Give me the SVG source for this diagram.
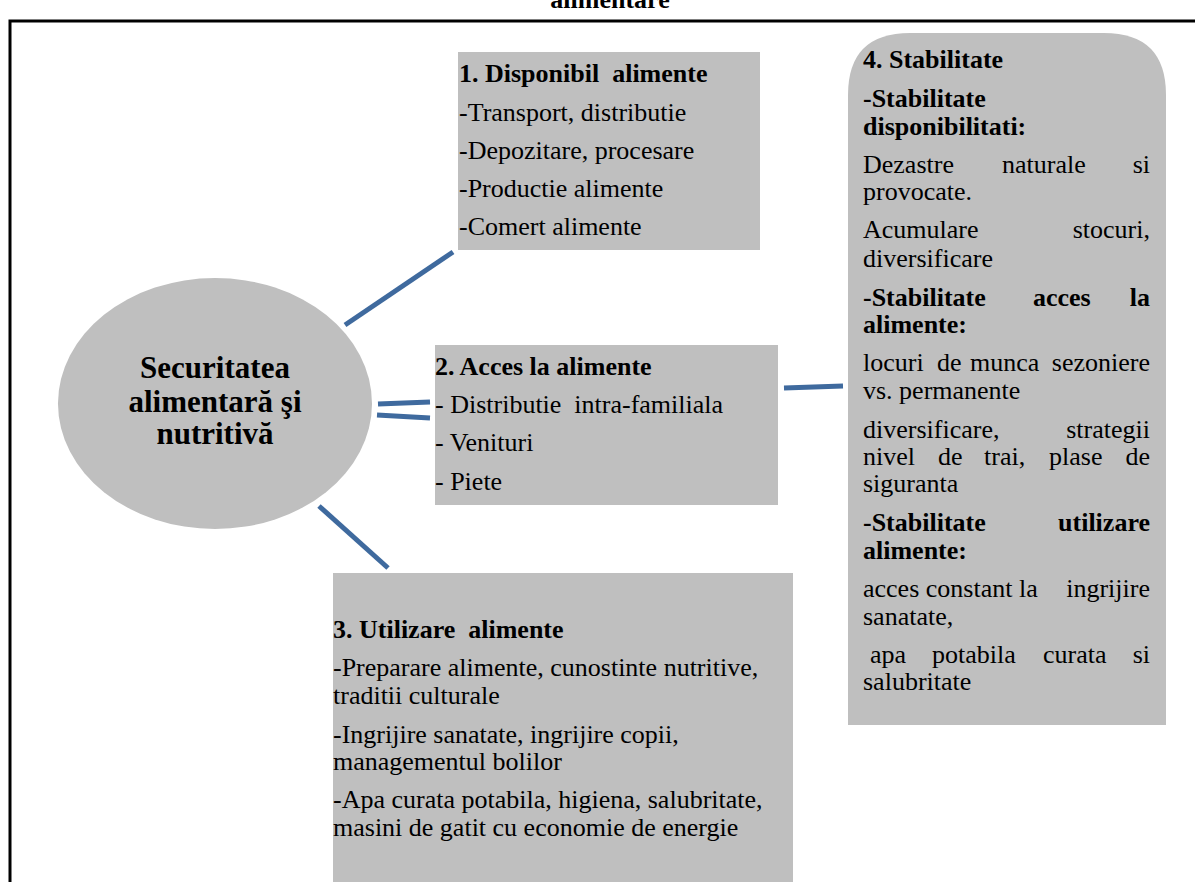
<svg xmlns="http://www.w3.org/2000/svg" width="1195" height="882" viewBox="0 0 1195 882">
<style>
.t{font-family:'Liberation Serif','Times New Roman','DejaVu Serif',serif;font-size:26px;fill:#000}
.b{font-weight:bold}
.big{font-size:31px}
.ttl{font-size:26px}
.box{fill:#BFBFBF}
.con line{stroke:#3F6A9E;stroke-width:5}
</style>
<rect width="1195" height="882" fill="#fff"/>
<text class="t b ttl" x="610" y="8" text-anchor="middle">alimentare</text>
<path d="M10,882 V21 H1195" fill="none" stroke="#000" stroke-width="3"/>
<g class="con">
<line x1="345" y1="325" x2="453" y2="252"/>
<line x1="378" y1="404" x2="430" y2="402"/>
<line x1="377" y1="415" x2="430" y2="418"/>
<line x1="319" y1="506" x2="388" y2="568"/>
<line x1="784" y1="388" x2="843" y2="386"/>
</g>
<g id="center">
<ellipse class="box" cx="215" cy="403.5" rx="157" ry="125.5"/>
<text class="t b big" x="215" text-anchor="middle"><tspan x="215" y="378">Securitatea</tspan><tspan x="215" y="412">alimentară şi</tspan><tspan x="215" y="444">nutritivă</tspan></text>
</g>
<g id="box1">
<rect class="box" x="458" y="52" width="302" height="198"/>
<text class="t b" x="459" y="82" xml:space="preserve">1. Disponibil  alimente</text>
<text class="t" x="459" y="121">-Transport, distributie</text>
<text class="t" x="459" y="159">-Depozitare, procesare</text>
<text class="t" x="459" y="197">-Productie alimente</text>
<text class="t" x="459" y="235">-Comert alimente</text>
</g>
<g id="box2">
<rect class="box" x="435" y="345" width="343" height="160"/>
<text class="t b" x="435" y="375">2. Acces la alimente</text>
<text class="t" x="435" y="413" xml:space="preserve">- Distributie  intra-familiala</text>
<text class="t" x="435" y="451">- Venituri</text>
<text class="t" x="435" y="490">- Piete</text>
</g>
<g id="box3">
<rect class="box" x="333" y="573" width="460" height="320"/>
<text class="t b" x="333" y="638" xml:space="preserve">3. Utilizare  alimente</text>
<text class="t" x="333" y="676">-Preparare alimente, cunostinte nutritive,</text>
<text class="t" x="333" y="704">traditii culturale</text>
<text class="t" x="333" y="743">-Ingrijire sanatate, ingrijire copii,</text>
<text class="t" x="333" y="770">managementul bolilor</text>
<text class="t" x="333" y="808">-Apa curata potabila, higiena, salubritate,</text>
<text class="t" x="333" y="836">masini de gatit cu economie de energie</text>
</g>
<g id="box4">
<path class="box" d="M848,725 V95 Q848,33 910,33 H1104 Q1166,33 1166,95 V725 Z"/>
<text class="t b" x="863" y="68">4. Stabilitate</text>
<text class="t b" x="863" y="107">-Stabilitate</text>
<text class="t b" x="863" y="135">disponibilitati:</text>
<text class="t" x="863" y="173">Dezastre</text><text class="t" x="1002" y="173">naturale</text><text class="t" x="1150" y="173" text-anchor="end">si</text>
<text class="t" x="863" y="200">provocate.</text>
<text class="t" x="863" y="238">Acumulare</text><text class="t" x="1150" y="238" text-anchor="end">stocuri,</text>
<text class="t" x="863" y="267">diversificare</text>
<text class="t b" x="863" y="306">-Stabilitate</text><text class="t b" x="1033" y="306">acces</text><text class="t b" x="1150" y="306" text-anchor="end">la</text>
<text class="t b" x="863" y="333">alimente:</text>
<text class="t" x="863" y="371">locuri</text><text class="t" x="937" y="371">de</text><text class="t" x="970" y="371">munca</text><text class="t" x="1150" y="371" text-anchor="end">sezoniere</text>
<text class="t" x="863" y="399">vs. permanente</text>
<text class="t" x="863" y="438">diversificare,</text><text class="t" x="1150" y="438" text-anchor="end">strategii</text>
<text class="t" x="863" y="465">nivel</text><text class="t" x="938" y="465">de</text><text class="t" x="984" y="465">trai,</text><text class="t" x="1049" y="465">plase</text><text class="t" x="1150" y="465" text-anchor="end">de</text>
<text class="t" x="863" y="492">siguranta</text>
<text class="t b" x="863" y="531">-Stabilitate</text><text class="t b" x="1150" y="531" text-anchor="end">utilizare</text>
<text class="t b" x="863" y="559">alimente:</text>
<text class="t" x="863" y="597">acces constant la</text><text class="t" x="1150" y="597" text-anchor="end">ingrijire</text>
<text class="t" x="863" y="625">sanatate,</text>
<text class="t" x="870" y="663">apa</text><text class="t" x="932" y="663">potabila</text><text class="t" x="1043" y="663">curata</text><text class="t" x="1150" y="663" text-anchor="end">si</text>
<text class="t" x="863" y="690">salubritate</text>
</g>
</svg>
